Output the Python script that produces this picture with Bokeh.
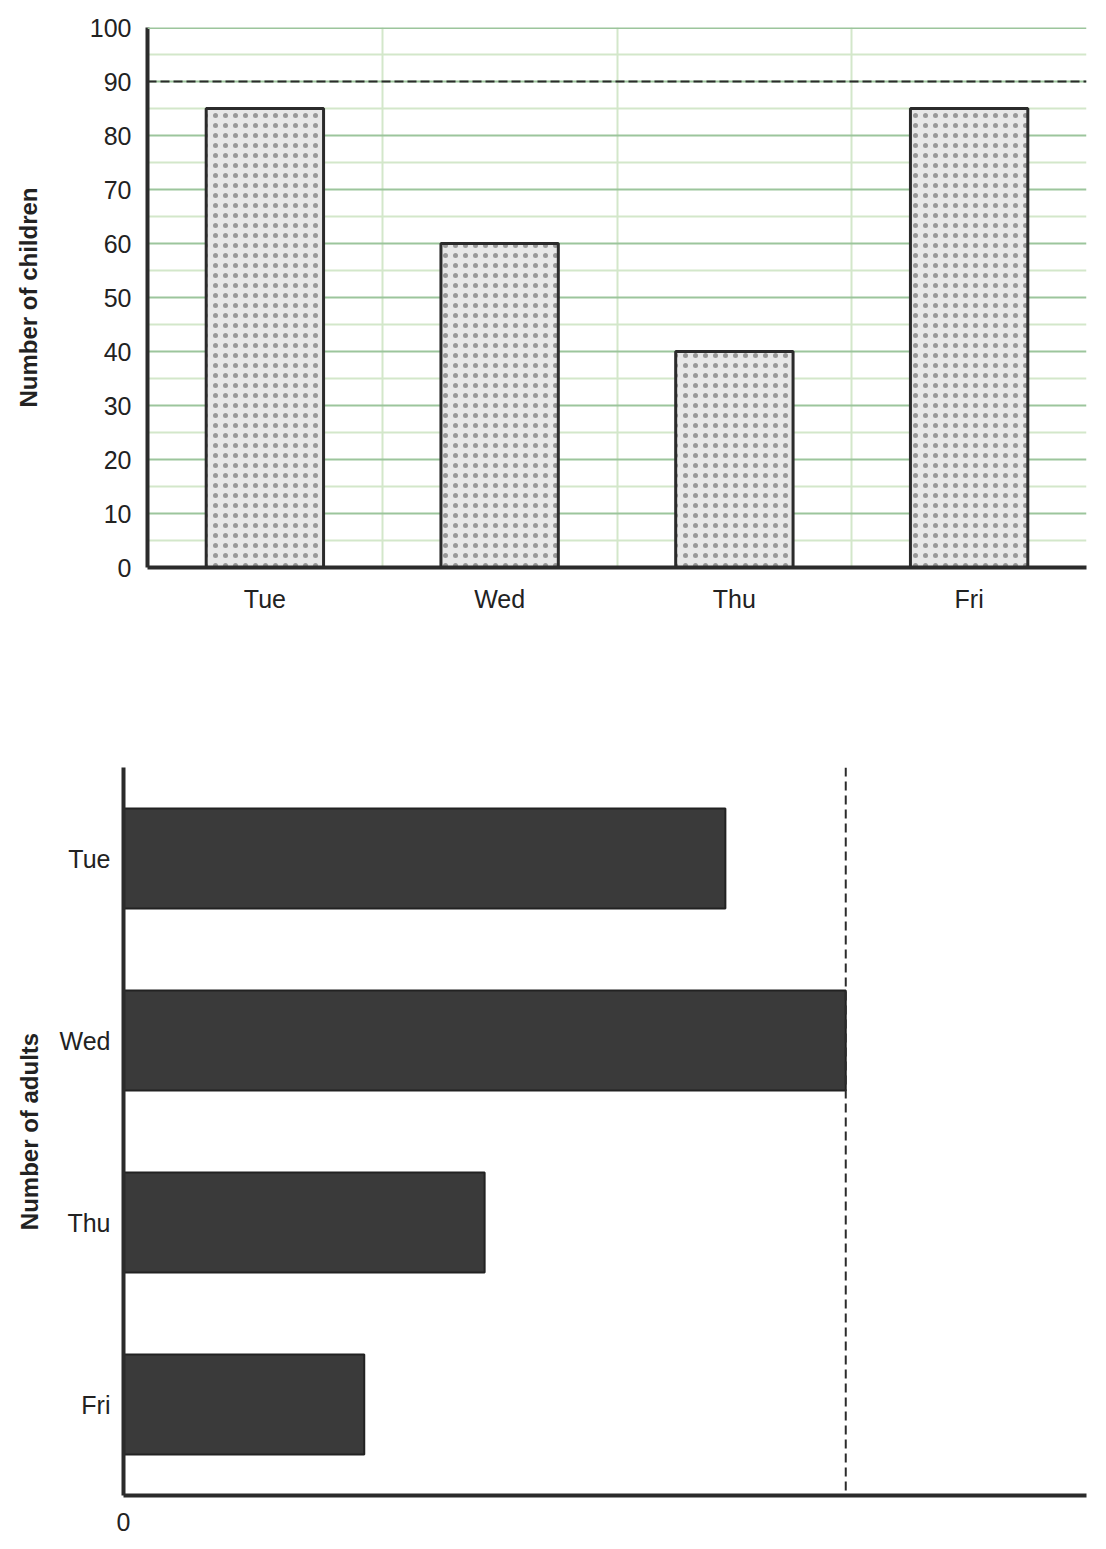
from bokeh.plotting import figure
from bokeh.models import FixedTicker, Span, FactorRange
from bokeh.embed import file_html
from bokeh.resources import INLINE

# ---- data ----
days = ["Tue", "Wed", "Thu", "Fri"]
children = [85, 60, 40, 85]
children_ref = 90
children_ticks = [0, 10, 20, 30, 40, 50, 60, 70, 80, 90, 100]
children_minor = [5, 15, 25, 35, 45, 55, 65, 75, 85, 95]
adults = [50, 60, 30, 20]
adults_ref = 60
adults_ticks = [0]

FONT = "Liberation Sans"
TXT = "#222222"
AX = "#2b2b2b"
GREEN = "#9cc59c"


def style_axis(ax):
    ax.axis_line_color = AX
    ax.axis_line_width = 4
    ax.major_tick_line_color = None
    ax.minor_tick_line_color = None
    ax.major_label_text_font = FONT
    ax.major_label_text_font_size = "25px"
    ax.major_label_text_color = TXT
    ax.axis_label_text_font = FONT
    ax.axis_label_text_font_size = "24px"
    ax.axis_label_text_font_style = "bold"
    ax.axis_label_text_color = TXT


# ---- top chart: children ----
x_pos = [i + 0.5 for i in range(len(days))]
p1 = figure(width=1100, height=720, x_range=(0, len(days)), y_range=(0, 100),
            output_backend="svg", toolbar_location=None,
            min_border_left=147, min_border_right=14, min_border_top=27, min_border_bottom=153)
p1.outline_line_color = None

p1.ygrid.ticker = FixedTicker(ticks=children_ticks, minor_ticks=children_minor)
p1.ygrid.grid_line_color = GREEN
p1.ygrid.grid_line_width = 2
p1.ygrid.minor_grid_line_color = "#d3e7ca"
p1.ygrid.minor_grid_line_width = 2
p1.xgrid.ticker = FixedTicker(ticks=[1, 2, 3])
p1.xgrid.grid_line_color = "#d3e7ca"
p1.xgrid.grid_line_width = 2
p1.add_layout(Span(location=children_ticks[-1], dimension="width",
                   line_color=GREEN, line_width=3))

p1.vbar(x=x_pos, top=children, width=0.5, fill_color="#e8e8e8",
        line_color=AX, line_width=3, hatch_pattern="dot", hatch_color="#999999",
        hatch_scale=10, hatch_weight=3)
p1.add_layout(Span(location=children_ref, dimension="width", line_color=AX,
                   line_width=2, line_dash="9 4"))

p1.yaxis.ticker = FixedTicker(ticks=children_ticks)
p1.yaxis.axis_label = "Number of children"
p1.xaxis.ticker = FixedTicker(ticks=x_pos)
p1.xaxis.major_label_overrides = {x: d for x, d in zip(x_pos, days)}
style_axis(p1.xaxis[0])
style_axis(p1.yaxis[0])
p1.yaxis.major_label_standoff = 10
p1.yaxis.axis_label_standoff = 45
p1.xaxis.major_label_standoff = 11

# ---- bottom chart: adults ----
p2 = figure(width=1100, height=825, x_range=(0, 80), y_range=FactorRange(*reversed(days)),
            output_backend="svg", toolbar_location=None,
            min_border_left=123, min_border_right=14, min_border_top=47, min_border_bottom=50)
p2.outline_line_color = None
p2.xgrid.visible = False
p2.ygrid.visible = False

p2.hbar(y=days, right=adults, height=0.55, fill_color="#3a3a3a",
        line_color="#222222", line_width=2)
p2.add_layout(Span(location=adults_ref, dimension="height", line_color=AX,
                   line_width=2, line_dash="9 5"))

p2.xaxis.ticker = FixedTicker(ticks=adults_ticks)
p2.yaxis.axis_label = "Number of adults"
style_axis(p2.xaxis[0])
style_axis(p2.yaxis[0])
p2.yaxis.major_label_standoff = 7
p2.yaxis.axis_label_standoff = 14
p2.xaxis.major_label_standoff = 11

open("out.html", "w").write(file_html([p1, p2], INLINE))
